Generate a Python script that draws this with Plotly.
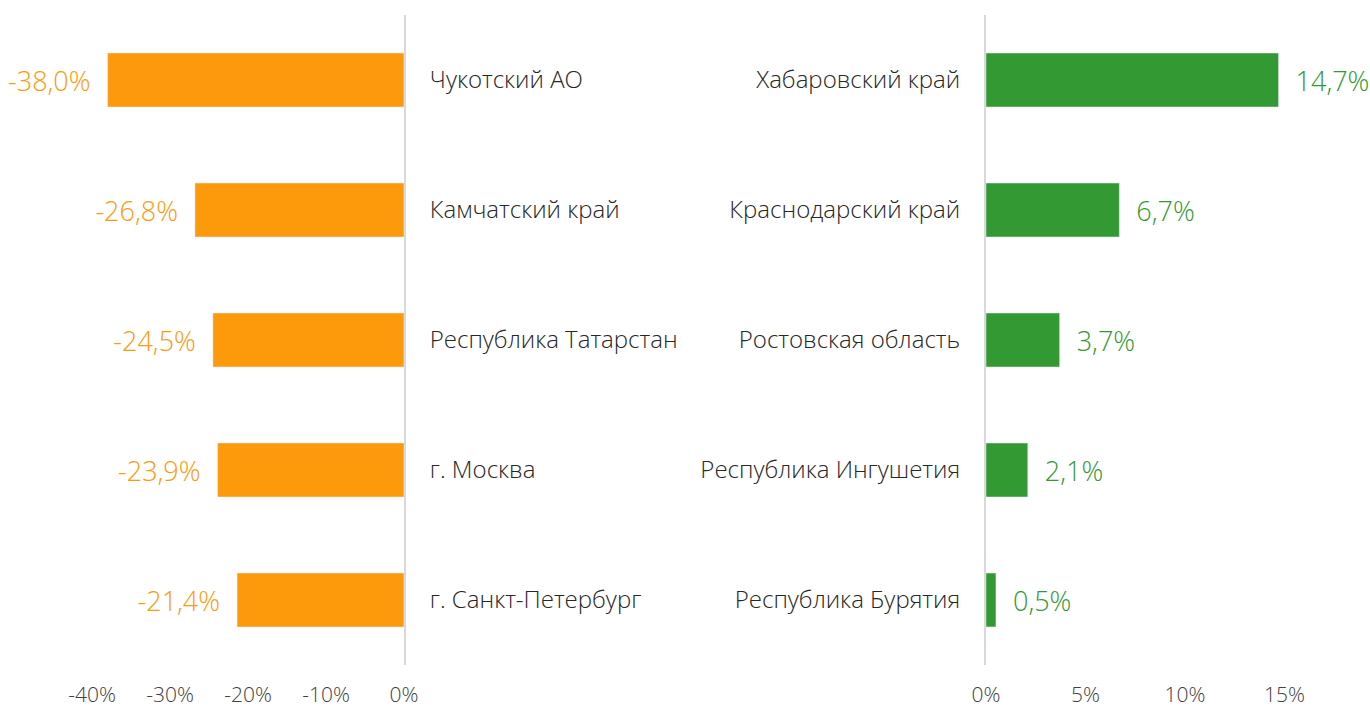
import plotly.graph_objects as go

left_regions = ["Чукотский АО", "Камчатский край", "Республика Татарстан", "г. Москва", "г. Санкт-Петербург"]
left_values = [-38.0, -26.8, -24.5, -23.9, -21.4]
right_regions = ["Хабаровский край", "Краснодарский край", "Ростовская область", "Республика Ингушетия", "Республика Бурятия"]
right_values = [14.7, 6.7, 3.7, 2.1, 0.5]
left_ticks = [-40, -30, -20, -10, 0]
right_ticks = [0, 5, 10, 15]

ORANGE = "#FD9A0C"
GREEN = "#339933"
FONT = "Open Sans"

def fmt(v):
    return f"{v:.1f}".replace(".", ",") + "%"

fig = go.Figure()
fig.add_trace(go.Bar(
    x=left_values, y=left_regions, orientation="h", marker_color=ORANGE, width=0.415,
    text=[fmt(v) + "\u00a0\u00a0" for v in left_values], textposition="outside",
    textfont=dict(color=ORANGE, size=27, family=FONT, weight=300), cliponaxis=False,
    xaxis="x", yaxis="y", hoverinfo="skip"))
fig.add_trace(go.Bar(
    x=right_values, y=right_regions, orientation="h", marker_color=GREEN, width=0.415,
    text=["\u00a0\u00a0" + fmt(v) for v in right_values], textposition="outside",
    textfont=dict(color=GREEN, size=27, family=FONT, weight=300), cliponaxis=False,
    xaxis="x2", yaxis="y2", hoverinfo="skip"))

W, H = 1370, 706
fig.update_layout(
    width=W, height=H, showlegend=False, autosize=False,
    paper_bgcolor="white", plot_bgcolor="white",
    margin=dict(l=0, r=0, t=15, b=41, autoexpand=False),
    font=dict(family=FONT, color="#262626", weight=300),
    xaxis=dict(domain=[92 / W, 404 / W], range=[-40, 0], tickvals=left_ticks,
               ticktext=[f"{t}%" for t in left_ticks], showgrid=False, zeroline=False,
               showline=False, ticks="", ticklabelstandoff=15, automargin=False,
               tickfont=dict(size=21, color="#404040", family=FONT, weight=300), anchor="y"),
    yaxis=dict(domain=[0, 1], autorange="reversed", side="right", anchor="x",
               showgrid=False, zeroline=False, showline=True, linecolor="#D9D9D9", linewidth=2,
               ticks="", ticklabelstandoff=19, automargin=False,
               tickfont=dict(size=24, color="#262626", family=FONT, weight=300)),
    xaxis2=dict(domain=[986 / W, 1284.5 / W], range=[0, 15], tickvals=right_ticks,
                ticktext=[f"{t}%" for t in right_ticks], showgrid=False, zeroline=False,
                showline=False, ticks="", ticklabelstandoff=15, automargin=False,
                tickfont=dict(size=21, color="#404040", family=FONT, weight=300), anchor="y2"),
    yaxis2=dict(domain=[0, 1], autorange="reversed", side="left", anchor="x2",
                showgrid=False, zeroline=False, showline=True, linecolor="#D9D9D9", linewidth=2,
                ticks="", ticklabelstandoff=19, automargin=False,
                tickfont=dict(size=24, color="#262626", family=FONT, weight=300)),
)

fig.write_html(
    "out.html",
    config={"displayModeBar": False},
    post_script="document.body.style.margin='0';document.body.style.overflow='hidden';",
)
